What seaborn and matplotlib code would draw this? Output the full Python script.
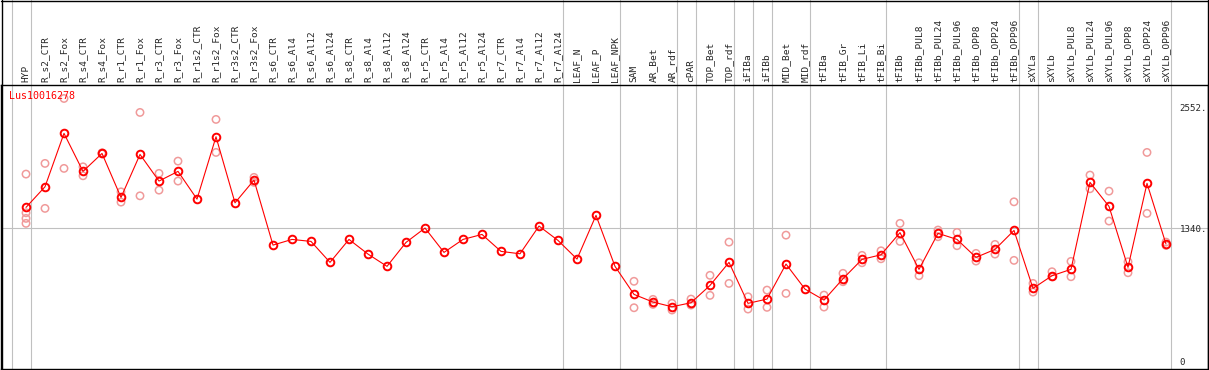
import matplotlib
matplotlib.use("Agg")
import matplotlib.pyplot as plt
import pandas as pd
import seaborn as sns

categories = [
    "HYP", "R_s2_CTR", "R_s2_Fox", "R_s4_CTR", "R_s4_Fox", "R_r1_CTR", "R_r1_Fox",
    "R_r3_CTR", "R_r3_Fox", "R_r1s2_CTR", "R_r1s2_Fox", "R_r3s2_CTR", "R_r3s2_Fox",
    "R_s6_CTR", "R_s6_Al4", "R_s6_Al12", "R_s6_Al24", "R_s8_CTR", "R_s8_Al4",
    "R_s8_Al12", "R_s8_Al24", "R_r5_CTR", "R_r5_Al4", "R_r5_Al12", "R_r5_Al24",
    "R_r7_CTR", "R_r7_Al4", "R_r7_Al12", "R_r7_Al24", "LEAF_N", "LEAF_P", "LEAF_NPK",
    "SAM", "AR_Bet", "AR_rdf", "cPAR", "TOP_Bet", "TOP_rdf", "iFIBa", "iFIBb",
    "MID_Bet", "MID_rdf", "tFIBa", "tFIB_Gr", "tFIB_Li", "tFIB_Bi", "tFIBb",
    "tFIBb_PUL8", "tFIBb_PUL24", "tFIBb_PUL96", "tFIBb_OPP8", "tFIBb_OPP24",
    "tFIBb_OPP96", "sXYLa", "sXYLb", "sXYLb_PUL8", "sXYLb_PUL24", "sXYLb_PUL96",
    "sXYLb_OPP8", "sXYLb_OPP24", "sXYLb_OPP96",
]

means = [
    1548, 1755, 2290, 1909, 2089, 1648, 2079, 1812, 1909, 1631, 2256, 1594, 1822,
    1170, 1227, 1207, 997, 1227, 1080, 957, 1197, 1341, 1097, 1227, 1277,
    1107, 1083, 1361, 1217, 1030, 1468, 957,
    676, 599, 552, 592, 766, 997, 586, 629, 980, 729,
    619, 833, 1027, 1073, 1295,
    927, 1288, 1227, 1047, 1127, 1317,
    736, 863, 927, 1799, 1558, 947, 1789, 1180,
]

# replicate values per sample (empty where none drawn)
replicates = [
    [1882, 1494, 1438, 1388], [1989, 1538], [2640, 1939], [1955, 1865], [2095, 2085],
    [1704, 1601], [2500, 1664], [1889, 1721], [2012, 1812], [], [2430, 2099], [],
    [1849, 1799],
    [], [], [], [], [], [], [], [], [], [], [], [], [], [], [], [], [], [], [],
    [807, 542], [626, 576], [586, 519], [629, 569], [867, 666], [1200, 786],
    [652, 529], [719, 546], [1270, 686], [],
    [669, 549], [887, 803], [1067, 993], [1113, 1033], [1388, 1207],
    [993, 863], [1321, 1254], [1297, 1164], [1087, 1010], [1177, 1080], [1604, 1017],
    [786, 699], [903, 853], [1007, 853], [1872, 1735], [1711, 1411], [1003, 893],
    [2099, 1488], [1200, 1167],
]

# group separators (drawn just after these sample indices)
separators = [-1, 0, 28, 31, 34, 35, 37, 38, 39, 41, 45, 52, 53, 60]

ytick_vals = [0, 1340, 2552]
ytick_text = ["0", "1340.", "2552."]
gene = "Lus10016278"

idx = list(range(len(categories)))
df_mean = pd.DataFrame({"pos": idx, "value": means})
df_rep = pd.DataFrame(
    [(i, v) for i, reps in enumerate(replicates) for v in reps],
    columns=["pos", "value"],
)

sns.set_theme(style="white")
plt.rcParams["font.family"] = ["DejaVu Sans Mono", "DejaVu Sans"]

W, H = 1209, 370
fig = plt.figure(figsize=(W / 100, H / 100), dpi=100)
ax = fig.add_axes([1 / W, 1 / H, 1207 / W, 284 / H])

red = "#ff0000"
pink = "#f09a9a"

sns.scatterplot(data=df_rep, x="pos", y="value", ax=ax, marker="o",
                facecolor="none", edgecolor=pink, linewidth=1.1, s=28, zorder=3)
sns.lineplot(data=df_mean, x="pos", y="value", ax=ax, color=red, lw=0.8,
             marker="o", markersize=5.5, markerfacecolor="none",
             markeredgecolor=red, markeredgewidth=1.4, sort=False, zorder=4)

ax.set_xlim(-25 / 19, 1182 / 19)
ax.set_ylim(-72, 2775)

for s in separators:
    ax.axvline(s + 0.24, ymin=0, ymax=369.5 / 284, color="#c0c0c0", lw=0.8,
               zorder=0, clip_on=False)
ax.axhline(1340, color="#c0c0c0", lw=0.8, zorder=0)

ax.xaxis.tick_top()
ax.set_xticks(idx)
ax.set_xticklabels(categories, rotation=90, fontsize=6.8)
ax.tick_params(axis="x", length=0, pad=2)

ax.yaxis.tick_right()
ax.set_yticks(ytick_vals)
ax.set_yticklabels(ytick_text, fontsize=6.6)
ax.tick_params(axis="y", length=0, pad=-20.5)
ax.set_xlabel("")
ax.set_ylabel("")

for sp in ax.spines.values():
    sp.set_color("black")
    sp.set_linewidth(1.0)

ax.text(0.007, 0.96, gene, transform=ax.transAxes, color=red, fontsize=7.2,
        ha="left", va="center")

# outer frame around the label band
fig.add_artist(plt.Line2D([1.5 / W, 1.5 / W], [1 / H, 1], color="black", lw=1.0))
fig.add_artist(plt.Line2D([1207.5 / W, 1207.5 / W], [1 / H, 1], color="black", lw=1.0))
fig.add_artist(plt.Line2D([1 / W, 1208 / W], [1 - 0.5 / H, 1 - 0.5 / H], color="black", lw=1.0))

fig.savefig("out.png", dpi=100)
